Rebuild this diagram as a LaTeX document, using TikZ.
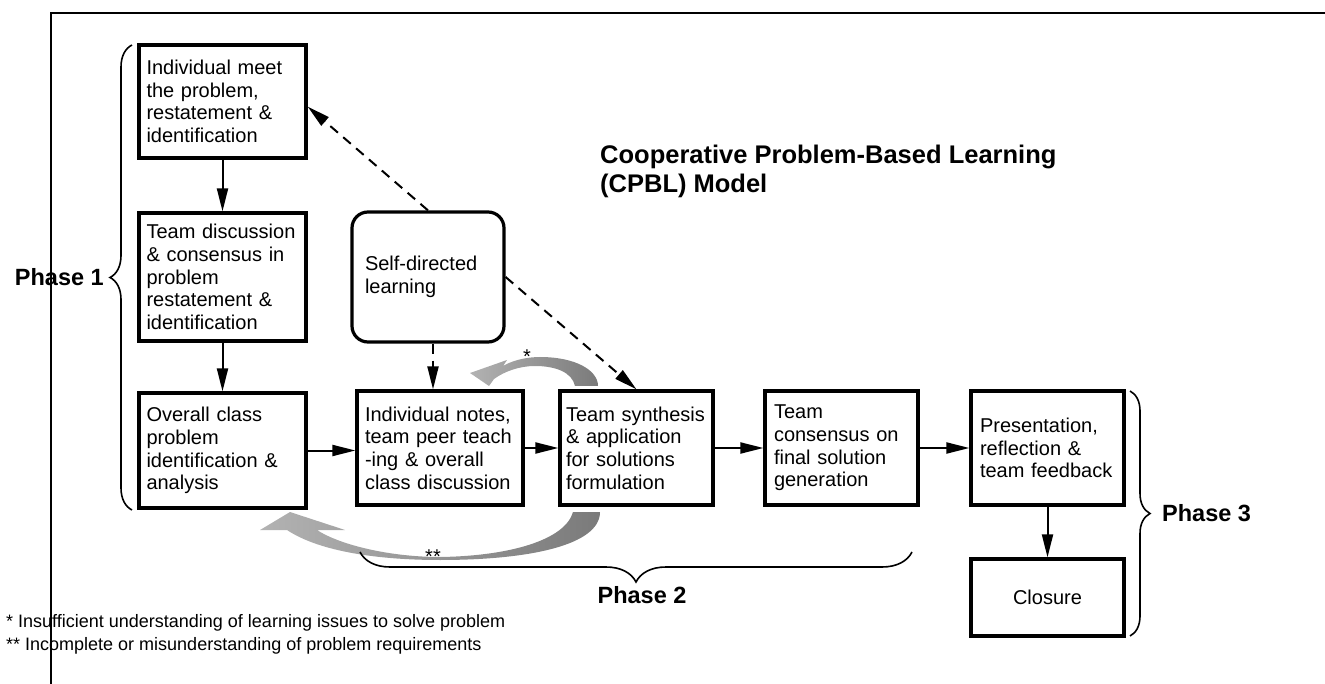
\documentclass[tikz,border=0pt]{standalone}
\usepackage{fontspec}
\setmainfont{Liberation Sans}
\usetikzlibrary{arrows.meta,decorations.pathreplacing}

\tikzset{
  stage/.style={draw, line width=3.2pt, text width=#1, inner xsep=7.5pt, inner ysep=0pt,
    align=left, font=\fontsize{20}{22.7}\selectfont},
  flow/.style={line width=2pt, -{Triangle[length=23pt,width=11pt]}},
  hint/.style={flow, dash pattern=on 10pt off 7pt},
  phase/.style={inner sep=0pt, font=\fontsize{23.5}{28}\selectfont\bfseries},
  bracket/.style={decorate, line width=1.6pt, decoration={brace,amplitude=#1}},
  loopback/.style={left color=black!30, right color=black!52},
}

\begin{document}
\begin{tikzpicture}[x=1pt,y=-1pt]
  \useasboundingbox (0,0) rectangle (1325,684);
  \draw[line width=1.2pt] (51,684) -- (51,13) -- (1325,13);

  % phase 1
  \node[stage=152pt, minimum height=113pt] (meet) at (222.5,101.5) {Individual meet\\the problem,\\restatement \&\\identification};
  \node[stage=152pt, minimum height=128pt] (teamdisc) at (222.5,277) {Team discussion\\\& consensus in\\problem\\restatement \&\\identification};
  \node[stage=152pt, minimum height=115pt] (overall) at (222.5,450.5) {Overall class\\problem\\identification \&\\analysis};

  % phase 2
  \node[stage=126pt, inner xsep=13pt, minimum height=130pt, rounded corners=16pt] (selfdir) at (428,277) {Self-directed\\learning\\[6pt]};
  \node[stage=150pt, inner xsep=8pt, minimum height=114pt] (notes) at (440,448) {Individual notes,\\team peer teach\\-ing \& overall\\class discussion};
  \node[stage=141pt, inner xsep=6pt, minimum height=114pt] (synth) at (636.5,448) {Team synthesis\\\& application\\for solutions\\formulation};
  \node[stage=135pt, inner xsep=9pt, minimum height=114pt] (consensus) at (841.5,448) {Team\\consensus on\\final solution\\generation};

  % phase 3
  \node[stage=135pt, inner xsep=9pt, minimum height=114pt] (present) at (1047.5,448) {Presentation,\\reflection \&\\team feedback\\[6pt]};
  \node[stage=135pt, inner xsep=9pt, minimum height=77pt, align=center] (closure) at (1047.5,597.5) {Closure};

  \draw[flow] (meet) -- (teamdisc);
  \draw[flow] (teamdisc) -- (overall);
  \draw[flow] (overall.east) -- (overall.east -| notes.west);
  \draw[flow] (notes) -- (synth);
  \draw[flow] (synth) -- (consensus);
  \draw[flow] (consensus) -- (present);
  \draw[flow] (present) -- (closure);

  \draw[hint] (selfdir.north) -- ([yshift=-5pt]meet.east);
  \draw[hint] (selfdir.east) -- (synth.north);
  \draw[hint] ([xshift=5pt]selfdir.south) -- ([xshift=5pt]selfdir.south |- notes.north);

  % feedback loops
  \shade[loopback] (575,386) .. controls (572,372) and (555,366) .. (535,366)
    .. controls (520,366) and (505,371) .. (494,379) -- (489,386) -- (470,373) -- (507,360) -- (503,366)
    .. controls (515,359) and (530,357) .. (540,357) .. controls (575,357) and (598,370) .. (598,386) -- cycle;
  \shade[loopback] (573,512) .. controls (565,540) and (510,556) .. (440,557)
    .. controls (390,557) and (340,545) .. (317,530) -- (345,530) -- (290,512) -- (260,530) -- (287,530)
    .. controls (320,552) and (380,560) .. (440,560) .. controls (530,560) and (600,545) .. (600,512) -- cycle;
  \node[inner sep=0pt, font=\fontsize{20}{22}\selectfont] (once) at (527,357) {*};
  \node[inner sep=0pt, font=\fontsize{20}{22}\selectfont] (twice) at (433,557) {**};

  % braces
  \draw[bracket=22pt] (132,510) -- (132,45);
  \draw[bracket=30pt] (912,552) -- (360,552);
  \draw[bracket=20pt] (1130,391) -- (1130,636);
  \node[phase, anchor=east] (ph1) at (104,277) {Phase 1};
  \node[phase] (ph2) at (642,595) {Phase 2};
  \node[phase, anchor=west] (ph3) at (1162,513) {Phase 3};

  \node[inner sep=0pt, anchor=west, align=left, font=\fontsize{25.5}{29}\selectfont\bfseries] (title) at (600,171) {Cooperative Problem-Based Learning\\(CPBL) Model};
  \node[inner sep=0pt, anchor=west, align=left, font=\fontsize{18}{23}\selectfont] (footnotes) at (6,634) {* Insufficient understanding of learning issues to solve problem\\** Incomplete or misunderstanding of problem requirements};
\end{tikzpicture}
\end{document}
